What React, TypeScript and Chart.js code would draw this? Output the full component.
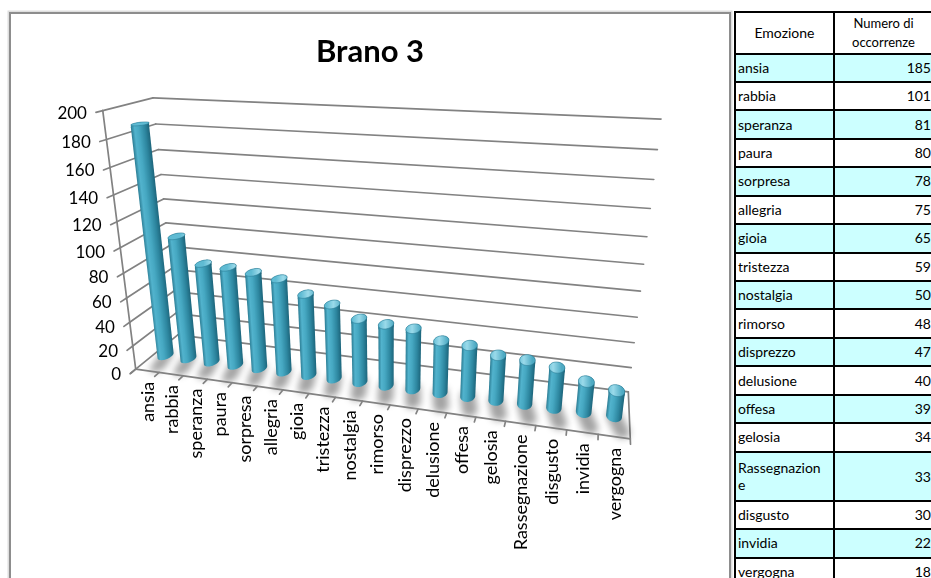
import React, { useEffect, useRef } from "react";
import { Chart, registerables } from "chart.js";

Chart.register(...registerables);

// ---- data ----
const emotions = [
  "ansia", "rabbia", "speranza", "paura", "sorpresa", "allegria", "gioia",
  "tristezza", "nostalgia", "rimorso", "disprezzo", "delusione", "offesa",
  "gelosia", "Rassegnazione", "disgusto", "invidia", "vergogna",
];
const occurrences = [185, 101, 81, 80, 78, 75, 65, 59, 50, 48, 47, 40, 39, 34, 33, 30, 22, 18];
const valueMin = 0;
const valueMax = 200;
const valueStep = 20;
const chartTitle = "Brano 3";
const headerEmotion = "Emozione";
const headerCount = ["Numero di", "occorrenze"];

// ---- page placement ----
const CANVAS_LEFT = 11;
const CANVAS_TOP = 14;
const CANVAS_W = 718;
const CANVAS_H = 564;

// Box corners (u: categories 0..1, v: values 0..1, z: depth 0 front .. 1 back)
// paired with page positions; a projective camera is fitted to them.
const CAMERA_FIT: number[][] = [
  [0, 0, 0, 136, 369],
  [0, 0.5, 0, 119.5, 247],
  [0, 1, 0, 103, 111],
  [0, 1, 1, 153, 98],
  [1, 1, 1, 661, 119],
  [1, 0.5, 1, 644, 264],
  [1, 0, 1, 628, 392],
  [1, 0, 0, 630, 439],
  [1 / 3, 0, 0, 283, 390.5],
  [2 / 3, 0, 0, 447, 413],
];
const BAR_DEPTH = 0.42;
const BAR_RZ = 0.13;
const CAP_BULGE = 2.5; // px of rounded bevel on top of each cylinder
const GRID_COLOR = "#828282";
const FONT = "Lato, 'Noto Sans', sans-serif";

type Pt = [number, number];
type Proj = (u: number, v: number, z: number) => Pt;

function fitProjection(corrs: number[][]): Proj {
  const cx = 380, cy = 270, sc = 300;
  const n = 11;
  const M = Array.from({ length: n }, () => new Array(n + 1).fill(0));
  const addRow = (row: number[], rhs: number) => {
    for (let i = 0; i < n; i++) {
      for (let j = 0; j < n; j++) M[i][j] += row[i] * row[j];
      M[i][n] += row[i] * rhs;
    }
  };
  for (const [X, Y, Z, x, y] of corrs) {
    const s = (x - cx) / sc;
    const t = (y - cy) / sc;
    addRow([X, Y, Z, 1, 0, 0, 0, 0, -s * X, -s * Y, -s * Z], s);
    addRow([0, 0, 0, 0, X, Y, Z, 1, -t * X, -t * Y, -t * Z], t);
  }
  for (let c = 0; c < n; c++) {
    let p = c;
    for (let r = c + 1; r < n; r++) if (Math.abs(M[r][c]) > Math.abs(M[p][c])) p = r;
    const tmp = M[c]; M[c] = M[p]; M[p] = tmp;
    for (let r = 0; r < n; r++) {
      if (r === c) continue;
      const f = M[r][c] / M[c][c];
      for (let k = c; k <= n; k++) M[r][k] -= f * M[c][k];
    }
  }
  const p = M.map((row, i) => row[n] / row[i]);
  return (X, Y, Z) => {
    const w = p[8] * X + p[9] * Y + p[10] * Z + 1;
    const s = (p[0] * X + p[1] * Y + p[2] * Z + p[3]) / w;
    const t = (p[4] * X + p[5] * Y + p[6] * Z + p[7]) / w;
    return [s * sc + cx - CANVAS_LEFT, t * sc + cy - CANVAS_TOP];
  };
}

function hull(points: Pt[]): Pt[] {
  const pts = points.slice().sort((a, b) => (a[0] - b[0]) || (a[1] - b[1]));
  const cross = (o: Pt, a: Pt, b: Pt) => (a[0] - o[0]) * (b[1] - o[1]) - (a[1] - o[1]) * (b[0] - o[0]);
  const lower: Pt[] = [];
  for (const p of pts) {
    while (lower.length >= 2 && cross(lower[lower.length - 2], lower[lower.length - 1], p) <= 0) lower.pop();
    lower.push(p);
  }
  const upper: Pt[] = [];
  for (let i = pts.length - 1; i >= 0; i--) {
    const p = pts[i];
    while (upper.length >= 2 && cross(upper[upper.length - 2], upper[upper.length - 1], p) <= 0) upper.pop();
    upper.push(p);
  }
  upper.pop();
  lower.pop();
  return lower.concat(upper);
}

function polygon(ctx: CanvasRenderingContext2D, pts: Pt[]) {
  ctx.beginPath();
  pts.forEach((p, i) => (i ? ctx.lineTo(p[0], p[1]) : ctx.moveTo(p[0], p[1])));
  ctx.closePath();
}

function line(ctx: CanvasRenderingContext2D, a: Pt, b: Pt) {
  ctx.beginPath();
  ctx.moveTo(a[0], a[1]);
  ctx.lineTo(b[0], b[1]);
  ctx.stroke();
}

const project = fitProjection(CAMERA_FIT);

const perspectivePlugin = {
  id: "perspective3d",
  afterDatasetsDraw(chart: any) {
    const { ctx, chartArea: a, scales } = chart;
    const xs = scales.x;
    const ys = scales.y;
    const aw = a.right - a.left;
    const ah = a.bottom - a.top;
    const toU = (px: number) => (px - a.left) / aw;
    const toV = (py: number) => (a.bottom - py) / ah;

    ctx.save();
    ctx.lineCap = "round";
    ctx.strokeStyle = GRID_COLOR;
    ctx.lineWidth = 1.7;

    // walls: value gridlines on the back wall and on the left wall
    const ticks = ys.ticks as { value: number }[];
    for (const t of ticks) {
      const v = toV(ys.getPixelForValue(t.value));
      line(ctx, project(0, v, 1), project(1, v, 1));
      line(ctx, project(0, v, 0), project(0, v, 1));
    }
    // right floor edge
    line(ctx, project(1, 0, 0), project(1, 0, 1));

    const meta = chart.getDatasetMeta(0);
    const bars = meta.data.map((el: any) => ({
      u: toU(el.x),
      v: toV(el.y),
      vb: toV(el.base),
      rx: el.width / 2 / aw,
    }));
    const ring = (u: number, v: number, z: number, rx: number, rz: number): Pt[] => {
      const out: Pt[] = [];
      for (let k = 0; k < 48; k++) {
        const th = (k / 48) * Math.PI * 2;
        out.push(project(u + rx * Math.cos(th), v, z + rz * Math.sin(th)));
      }
      return out;
    };

    // soft shadows cast on the floor
    ctx.save();
    ctx.filter = "blur(3.5px)";
    ctx.fillStyle = "rgba(0,0,0,0.36)";
    for (const b of bars) {
      const pts = ring(b.u, b.vb, BAR_DEPTH, b.rx, BAR_RZ).concat(
        ring(b.u + b.rx * 0.9, b.vb, BAR_DEPTH - 0.3, b.rx, BAR_RZ)
      );
      polygon(ctx, hull(pts));
      ctx.fill();
    }
    ctx.restore();

    // cylinders
    for (const b of bars) {
      const bottom = ring(b.u, b.vb, BAR_DEPTH, b.rx, BAR_RZ);
      const top = ring(b.u, b.v, BAR_DEPTH, b.rx, BAR_RZ);
      const dome: Pt[] = top.map((p) => [p[0], p[1] - CAP_BULGE]);
      const body = hull(bottom.concat(top));
      const c0 = project(b.u, b.vb, BAR_DEPTH);
      const c1 = project(b.u, b.v, BAR_DEPTH);
      let dx = c1[0] - c0[0], dy = c1[1] - c0[1];
      const len = Math.hypot(dx, dy) || 1;
      dx /= len; dy /= len;
      const nx = -dy, ny = dx;
      let lo = Infinity, hi = -Infinity;
      for (const p of body) {
        const d = (p[0] - c0[0]) * nx + (p[1] - c0[1]) * ny;
        lo = Math.min(lo, d);
        hi = Math.max(hi, d);
      }
      const g0: Pt = [c0[0] + nx * lo, c0[1] + ny * lo];
      const g1: Pt = [c0[0] + nx * hi, c0[1] + ny * hi];
      const [gl, gr] = g0[0] <= g1[0] ? [g0, g1] : [g1, g0];
      const grad = ctx.createLinearGradient(gl[0], gl[1], gr[0], gr[1]);
      grad.addColorStop(0, "#2a7b92");
      grad.addColorStop(0.2, "#52b3cd");
      grad.addColorStop(0.42, "#46a8c2");
      grad.addColorStop(0.75, "#2d869f");
      grad.addColorStop(1, "#1c647a");
      polygon(ctx, body);
      ctx.fillStyle = grad;
      ctx.fill();

      // rounded bevel on the top face
      polygon(ctx, hull(top.concat(dome)));
      ctx.fillStyle = grad;
      ctx.fill();
      const capGrad = ctx.createLinearGradient(gl[0], 0, gr[0], 0);
      capGrad.addColorStop(0, "#5fbbd3");
      capGrad.addColorStop(0.45, "#9adaea");
      capGrad.addColorStop(1, "#4eaac3");
      polygon(ctx, dome);
      ctx.fillStyle = capGrad;
      ctx.fill();
      ctx.lineWidth = 0.8;
      ctx.strokeStyle = "rgba(40,120,145,0.7)";
      ctx.stroke();
    }

    // category axis along the front edge
    ctx.strokeStyle = GRID_COLOR;
    ctx.lineWidth = 1.7;
    line(ctx, project(0, 0, 0), project(1, 0, 0));
    for (let k = 0; k <= emotions.length; k++) {
      const u = toU(xs.getPixelForValue(k - 0.5));
      line(ctx, project(u, 0, 0), project(u, 0, -0.1));
    }
    ctx.fillStyle = "#000";
    ctx.font = `18px ${FONT}`;
    ctx.textAlign = "right";
    ctx.textBaseline = "middle";
    chart.data.labels.forEach((lab: string, i: number) => {
      const u = toU(xs.getPixelForValue(i));
      const p = project(u, 0, 0);
      ctx.save();
      ctx.translate(p[0] + 1, p[1] + 11);
      ctx.rotate(-Math.PI / 2);
      ctx.fillText(lab, 0, 0);
      ctx.restore();
    });

    // value axis on the front-left edge
    line(ctx, project(0, 0, 0), project(0, 1, 0));
    ctx.font = `17px ${FONT}`;
    for (const t of ticks) {
      const v = toV(ys.getPixelForValue(t.value));
      const end = project(0, v, -0.12);
      line(ctx, project(0, v, 0), end);
      ctx.fillText(String(t.value), end[0] - 9, end[1] + 1);
    }
    ctx.restore();
  },
};

function wrapCell(text: string, maxChars: number): string[] {
  const out: string[] = [];
  for (let i = 0; i < text.length; i += maxChars) out.push(text.slice(i, i + maxChars));
  return out;
}

const ROW_H = 28.45;
const WRAP_ROW_H = 49;
const HEADER_H = 41.5;
const CYAN = "#ccffff";

function DataTable() {
  const border = "2px solid #000";
  return (
    <div
      style={{
        position: "absolute",
        left: 734,
        top: 11,
        width: 200,
        borderTop: border,
        borderLeft: border,
        fontFamily: FONT,
        color: "#000",
      }}
    >
      <div style={{ display: "flex", height: HEADER_H, boxSizing: "border-box", borderBottom: border, background: "#fff" }}>
        <div style={{ width: 99, boxSizing: "border-box", borderRight: border, display: "flex", alignItems: "center", justifyContent: "center", fontSize: 14 }}>
          {headerEmotion}
        </div>
        <div style={{ flex: 1, display: "flex", flexDirection: "column", alignItems: "center", justifyContent: "center", fontSize: 13, lineHeight: "19px", paddingRight: 4 }}>
          {headerCount.map((h) => (
            <div key={h}>{h}</div>
          ))}
        </div>
      </div>
      {emotions.map((e, i) => {
        const lines = wrapCell(e, 12);
        return (
          <div
            key={e}
            style={{
              display: "flex",
              height: lines.length > 1 ? WRAP_ROW_H : ROW_H,
              boxSizing: "border-box",
              borderBottom: border,
              background: i % 2 === 0 ? CYAN : "#fff",
              fontSize: 14,
              lineHeight: lines.length > 1 ? "17px" : "20px",
            }}
          >
            <div style={{ width: 99, boxSizing: "border-box", borderRight: border, paddingLeft: 2, display: "flex", flexDirection: "column", justifyContent: "center" }}>
              {lines.map((l) => (
                <div key={l}>{l}</div>
              ))}
            </div>
            <div style={{ flex: 1, display: "flex", alignItems: "center", justifyContent: "flex-end", paddingRight: 5 }}>
              {occurrences[i]}
            </div>
          </div>
        );
      })}
    </div>
  );
}

export default function App() {
  const canvasRef = useRef<HTMLCanvasElement | null>(null);

  useEffect(() => {
    const canvas = canvasRef.current;
    if (!canvas) return;
    const chart = new Chart(canvas, {
      type: "bar",
      data: {
        labels: emotions,
        datasets: [
          {
            data: occurrences,
            backgroundColor: "rgba(0,0,0,0)",
            borderWidth: 0,
            categoryPercentage: 0.52,
            barPercentage: 1,
          },
        ],
      },
      options: {
        responsive: false,
        animation: false,
        events: [],
        layout: { padding: 0 },
        plugins: {
          legend: { display: false },
          tooltip: { enabled: false },
          title: {
            display: true,
            text: chartTitle,
            color: "#000",
            font: { family: FONT, size: 31, weight: "bold" },
            padding: { top: 19, bottom: 10 },
          },
        },
        scales: {
          x: { display: false },
          y: {
            min: valueMin,
            max: valueMax,
            grid: { display: false },
            border: { display: false },
            ticks: { display: false, stepSize: valueStep },
          },
        },
      },
      plugins: [perspectivePlugin],
    } as any);
    return () => chart.destroy();
  }, []);

  return (
    <div style={{ position: "fixed", left: 0, top: 0, width: 931, height: 578, overflow: "hidden", background: "#fff" }}>
      <div
        style={{
          position: "absolute",
          left: 9,
          top: 12,
          width: 722,
          height: 640,
          boxSizing: "border-box",
          border: "2px solid #8d8d8d",
          boxShadow: "0 0 0 1.5px #dedede",
        }}
      />
      <canvas
        ref={canvasRef}
        width={CANVAS_W}
        height={CANVAS_H}
        style={{ position: "absolute", left: CANVAS_LEFT, top: CANVAS_TOP, width: CANVAS_W, height: CANVAS_H }}
      />
      <DataTable />
    </div>
  );
}
